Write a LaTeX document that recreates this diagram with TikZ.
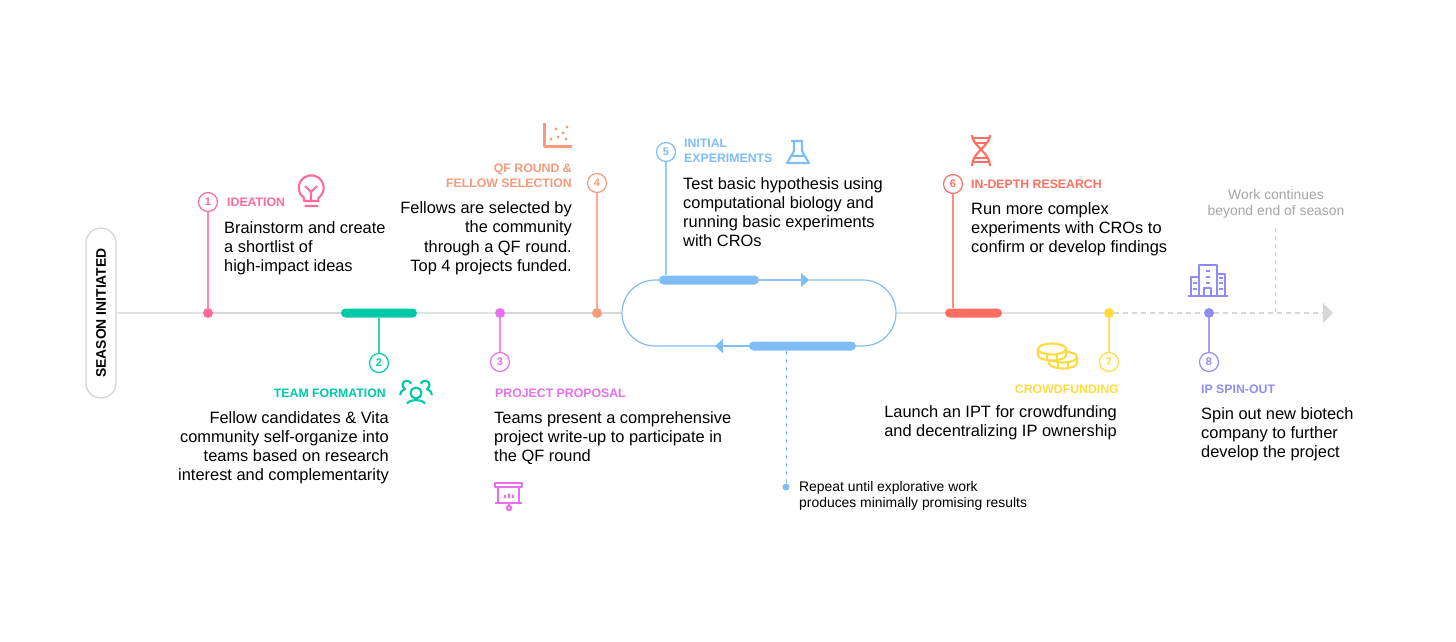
\documentclass[tikz,border=0pt]{standalone}
\usepackage{fontspec}
\setmainfont{Liberation Sans}
\usetikzlibrary{arrows.meta,calc,positioning,shapes.misc}
\definecolor{cidea}{RGB}{254,106,154}
\definecolor{cteam}{RGB}{0,201,167}
\definecolor{cprop}{RGB}{232,111,240}
\definecolor{cqf}{RGB}{245,154,122}
\definecolor{cexp}{RGB}{128,189,245}
\definecolor{cdna}{RGB}{255,111,97}
\definecolor{cfund}{RGB}{255,219,61}
\definecolor{cspin}{RGB}{143,140,245}
\definecolor{ctrunk}{RGB}{214,214,214}
\tikzset{
  season/.style={rounded rectangle,draw=ctrunk,line width=1.3pt,fill=white,rotate=90,
    minimum width=170pt,minimum height=30pt,inner sep=0pt,
    font=\fontsize{13.9}{15}\selectfont\bfseries},
  dotnode/.style={circle,fill=#1,minimum size=10pt,inner sep=0pt},
  barnode/.style={rounded rectangle,fill=#1,minimum height=9pt,inner sep=0pt},
  numnode/.style={circle,draw=#1,text=#1,line width=1.2pt,fill=white,minimum size=19pt,
    inner sep=0pt,font=\fontsize{11}{12}\selectfont\bfseries},
  title/.style={text=#1,inner sep=0pt,align=left,
    font=\fontsize{12.3}{15}\selectfont\bfseries},
  body/.style={inner sep=0pt,align=left,font=\fontsize{16.4}{19.3}\selectfont},
  note/.style={inner sep=0pt,align=left,font=\fontsize{13.9}{16}\selectfont},
  trunk/.style={ctrunk,line width=1.3pt},
  stem/.style={#1!80,line width=1.3pt},
  icon/.style={#1,line width=2.1pt,line join=round}
}
\begin{document}
\begin{tikzpicture}[x=1pt,y=-1pt]
  \useasboundingbox (0,0) rectangle (1456,641);
  % main line and the events on it
  \node[season] (start) at (101,313) {SEASON INITIATED};
  \node[dotnode=cidea] (dot1) at (208,313) {};
  \node[barnode=cteam,minimum width=76pt] (bar2) at (379,313) {};
  \node[dotnode=cprop] (dot3) at (500,313) {};
  \node[dotnode=cqf] (dot4) at (597,313) {};
  \node[rounded rectangle,draw=cexp,line width=1.2pt,minimum width=274pt,
    minimum height=66pt,inner sep=0pt] (loop) at (759,313) {};
  \node[barnode=cexp,minimum width=100pt] (bar5) at (709,280) {};
  \node[barnode=cexp,minimum width=107pt] (back5) at (802.5,346) {};
  \node[barnode=cdna,minimum width=57pt] (bar6) at (973.5,313) {};
  \node[dotnode=cfund] (dot7) at (1109,313) {};
  \node[dotnode=cspin] (dot8) at (1209,313) {};
  \coordinate (fwd) at (809,280);
  \coordinate (bwd) at (715,346);
  \coordinate (tip) at (1333,313);

  \draw[trunk] (start) -- (dot1);
  \draw[trunk] (dot1) -- (bar2);
  \draw[trunk] (bar2) -- (dot3);
  \draw[trunk] (dot3) -- (dot4);
  \draw[trunk] (dot4) -- (loop);
  \draw[trunk] (loop) -- (bar6);
  \draw[trunk] (bar6) -- (dot7);
  \draw[trunk,dash pattern=on 5pt off 4pt] (dot7) -- (dot8);
  \draw[trunk,dash pattern=on 5pt off 4pt,-{Triangle[length=10pt,width=20pt]}] (dot8) -- (tip);
  \draw[cexp,line width=1.2pt,-{Triangle[length=8pt,width=14pt]}] (bar5) -- (fwd);
  \draw[cexp,line width=1.2pt,-{Triangle[length=8pt,width=14pt]}] (back5) -- (bwd);

  % numbers
  \node[numnode=cidea] (num1) at (208,202) {1};
  \node[numnode=cteam] (num2) at (379,363) {2};
  \node[numnode=cprop] (num3) at (500,362) {3};
  \node[numnode=cqf] (num4) at (597,183) {4};
  \node[numnode=cexp] (num5) at (666,152) {5};
  \node[numnode=cdna] (num6) at (953,184) {6};
  \node[numnode=cfund] (num7) at (1109,362) {7};
  \node[numnode=cspin] (num8) at (1209,362) {8};
  \draw[stem=cidea] (num1) -- (dot1);
  \draw[stem=cteam] (num2) -- (bar2);
  \draw[stem=cprop] (num3) -- (dot3);
  \draw[stem=cqf] (num4) -- (dot4);
  \draw[stem=cexp] (num5) -- (num5 |- bar5.north);
  \draw[stem=cdna] (num6) -- (num6 |- bar6.north);
  \draw[stem=cfund] (num7) -- (dot7);
  \draw[stem=cspin] (num8) -- (dot8);

  % titles and texts
  \node[title=cidea,anchor=west] (title1) at (227,202) {IDEATION};
  \node[body,anchor=north west] (text1) at (224,221) {Brainstorm and create\\a shortlist of\\high-impact ideas};
  \node[title=cteam,anchor=east] (title2) at (386,393) {TEAM FORMATION};
  \node[body,align=right,anchor=north east] (text2) at (389,411) {Fellow candidates \& Vita\\community self-organize into\\teams based on research\\interest and complementarity};
  \node[title=cprop,anchor=west] (title3) at (495,393) {PROJECT PROPOSAL};
  \node[body,anchor=north west] (text3) at (494,411) {Teams present a comprehensive\\project write-up to participate in\\the QF round};
  \node[title=cqf,align=right,anchor=north east] (title4) at (572,164) {QF ROUND \&\\FELLOW SELECTION};
  \node[body,align=right,anchor=north east] (text4) at (572,201.5) {Fellows are selected by\\the community\\through a QF round.\\Top 4 projects funded.};
  \node[title=cexp,anchor=north west] (title5) at (684,139) {INITIAL\\EXPERIMENTS};
  \node[body,anchor=north west] (text5) at (683,177) {Test basic hypothesis using\\computational biology and\\running basic experiments\\with CROs};
  \node[title=cdna,anchor=west] (title6) at (971,184) {IN-DEPTH RESEARCH};
  \node[body,anchor=north west] (text6) at (971,202) {Run more complex\\experiments with CROs to\\confirm or develop findings};
  \node[title=cfund,anchor=east] (title7) at (1119,389) {CROWDFUNDING};
  \node[body,align=right,anchor=north east] (text7) at (1117,405) {Launch an IPT for crowdfunding\\and decentralizing IP ownership};
  \node[title=cspin,anchor=west] (title8) at (1201,389) {IP SPIN-OUT};
  \node[body,anchor=north west] (text8) at (1201,407) {Spin out new biotech\\company to further\\develop the project};

  % notes
  \node[circle,fill=cexp,minimum size=7pt,inner sep=0pt] (rep) at (786,487) {};
  \draw[cexp,line width=1pt,dash pattern=on 4pt off 4pt] (rep |- back5.south) -- (rep);
  \node[note,anchor=north west] (reptext) at (799,481) {Repeat until explorative work\\produces minimally promising results};
  \node[note,align=center,text=gray!70,anchor=north] (more) at (1276,189) {Work continues\\beyond end of season};
  \coordinate (moreend) at (1275,313);
  \draw[ctrunk,line width=1pt,dash pattern=on 4pt off 4pt] (1275,228) -- (moreend);

  % icons
  \draw[icon=cidea] (304,201) -- (304,198) arc[start angle=235,end angle=-55,radius=12.5pt] -- (318.4,201) -- cycle;
  \draw[icon=cidea] (311,201) -- (311,192) -- (305,186) (311,192) -- (317,186) (304.5,206) -- (318,206);
  \draw[icon=cteam] (416,393) circle (5.5) (407,403.5) .. controls (410,399) and (422,399) .. (425,403.5);
  \draw[icon=cteam] (411.5,383.5) .. controls (409,379.5) and (403,380) .. (402.5,384.5) .. controls (402.5,387) and (403.5,388) .. (405,389) .. controls (402,390) and (400.5,392) .. (400,395);
  \draw[icon=cteam] (420.5,383.5) .. controls (423,379.5) and (429,380) .. (429.5,384.5) .. controls (429.5,387) and (428.5,388) .. (427,389) .. controls (430,390) and (431.5,392) .. (432,395);
  \draw[icon=cqf] (544.5,123) -- (544.5,146.5) -- (572,146.5);
  \foreach \px/\py in {556/129,567/127,551/139,558/137,563/133,566/139}
    \fill[cqf] (\px,\py) circle (1.7);
  \draw[icon=cprop] (495,483) rectangle (522,487) (498,487) -- (498,503) (519,487) -- (519,503) (495,503) -- (522,503) (509,503) -- (509,506);
  \draw[icon=cprop] (509,508) circle (2.2) (505,498) -- (505,495) (509,498) -- (509,493.5) (513,498) -- (513,494.5);
  \draw[icon=cexp] (791,141) -- (803,141) (794,141) -- (794,151) -- (787,163) -- (809,163) -- (802,151) -- (802,141) (790.5,156) -- (805.5,156);
  \draw[icon=cdna] (972,135) .. controls (972,146) and (990,152) .. (990,166);
  \draw[icon=cdna] (990,135) .. controls (990,146) and (972,152) .. (972,166);
  \draw[icon=cdna] (973,138) -- (989,138) (975,143) -- (987,143) (975,158) -- (987,158) (973,162) -- (989,162);
  \foreach \cx/\cy in {1063/357,1052/349}{
    \draw[icon=cfund,fill=white] (\cx-14,\cy) -- (\cx-14,\cy+6) arc[start angle=180,end angle=360,x radius=14pt,y radius=5.5pt] -- (\cx+14,\cy) arc[start angle=0,end angle=180,x radius=14pt,y radius=5.5pt] -- cycle;
    \draw[icon=cfund] (\cx-14,\cy) arc[start angle=180,end angle=360,x radius=14pt,y radius=5.5pt];
    \draw[icon=cfund] (\cx-5,\cy+5) -- (\cx-5,\cy+11) (\cx+5,\cy+5) -- (\cx+5,\cy+11);
  }
  \draw[icon=cspin] (1188,296) -- (1228,296) (1191,296) -- (1191,277) -- (1199,277) (1199,296) -- (1199,265) -- (1217,265) -- (1217,296) (1217,274) -- (1225,274) -- (1225,296) (1204,296) -- (1204,288) -- (1211,288) -- (1211,296);
  \foreach \wx/\wy in {1208/271,1208/277,1195/283,1208/283,1221/283,1195/289,1221/289,1221/278}
    \draw[icon=cspin] (\wx-2,\wy) -- (\wx+2,\wy);
\end{tikzpicture}
\end{document}
